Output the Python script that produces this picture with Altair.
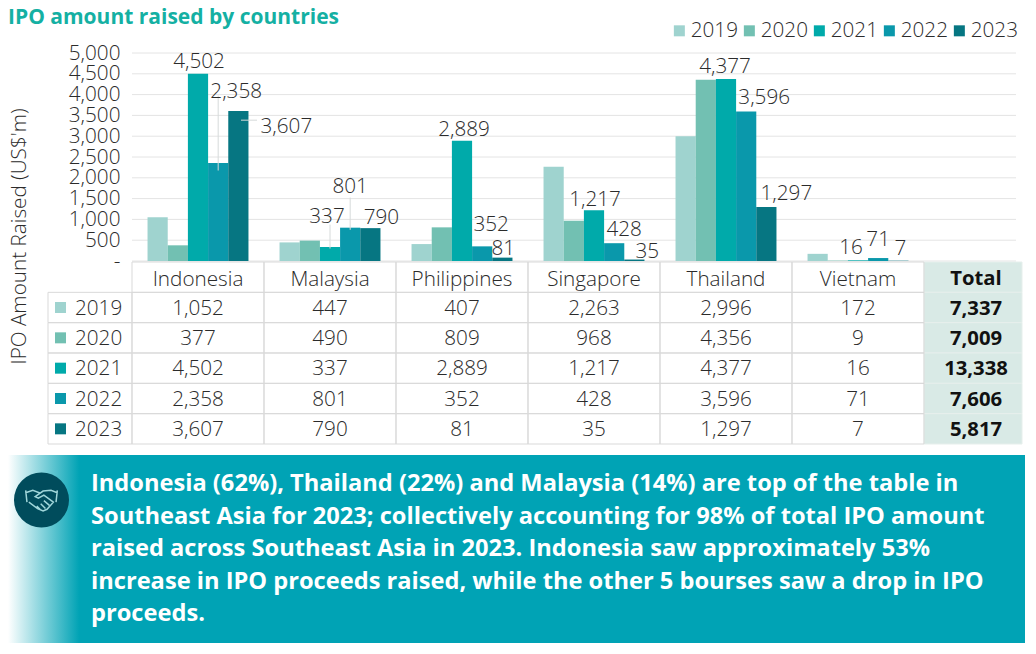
import altair as alt
import pandas as pd

countries = ["Indonesia", "Malaysia", "Philippines", "Singapore", "Thailand", "Vietnam"]
years = ["2019", "2020", "2021", "2022", "2023"]
series_2019 = [1052, 447, 407, 2263, 2996, 172]
series_2020 = [377, 490, 809, 968, 4356, 9]
series_2021 = [4502, 337, 2889, 1217, 4377, 16]
series_2022 = [2358, 801, 352, 428, 3596, 71]
series_2023 = [3607, 790, 81, 35, 1297, 7]
totals = [7337, 7009, 13338, 7606, 5817]
y_ticks = [0, 500, 1000, 1500, 2000, 2500, 3000, 3500, 4000, 4500, 5000]
colors = ["#9fd3cf", "#72c0b2", "#00aaaa", "#0a98ab", "#067682"]
banner_lines = [
    "Indonesia (62%), Thailand (22%) and Malaysia (14%) are top of the table in",
    "Southeast Asia for 2023; collectively accounting for 98% of total IPO amount",
    "raised across Southeast Asia in 2023. Indonesia saw approximately 53%",
    "increase in IPO proceeds raised, while the other 5 bourses saw a drop in IPO",
    "proceeds.",
]
# hand placement of the callouts: (country, year): (dx, dy)
label_nudges = {
    ("Indonesia", "2021"): (1, -12), ("Indonesia", "2022"): (18, -71), ("Indonesia", "2023"): (48, 16),
    ("Malaysia", "2021"): (-3, -30), ("Malaysia", "2022"): (0, -41), ("Malaysia", "2023"): (11, -10),
    ("Philippines", "2021"): (2, -11), ("Philippines", "2022"): (9, -21), ("Philippines", "2023"): (1, -9),
    ("Singapore", "2021"): (1, -10), ("Singapore", "2022"): (10, -13), ("Singapore", "2023"): (13, -8),
    ("Thailand", "2021"): (-1, -12), ("Thailand", "2022"): (18, -13), ("Thailand", "2023"): (20, -13),
    ("Vietnam", "2021"): (-7, -12), ("Vietnam", "2022"): (0, -18), ("Vietnam", "2023"): (2, -12),
}

FONT = "Open Sans"
INK = "#2b2b2b"
LINE = "#d9d9d9"
TXT = 20.7
BOLD = 20.3

series = [series_2019, series_2020, series_2021, series_2022, series_2023]
df = pd.DataFrame(
    [{"Country": c, "Year": y, "Value": s[i]} for y, s in zip(years, series) for i, c in enumerate(countries)]
)
rows = [""] + years

x_enc = alt.X("Country:N", scale=alt.Scale(domain=countries, range=[0, 792], paddingInner=0, paddingOuter=0), axis=None)
xo_enc = alt.XOffset("Year:N", scale=alt.Scale(domain=years, paddingInner=0, paddingOuter=0.77))
y_val = alt.Y("Value:Q", scale=alt.Scale(domain=[0, 5000], range=[208, 0], nice=False), axis=None)
table_y = alt.Scale(domain=rows, range=[209, 391], paddingInner=0, paddingOuter=0)
color_enc = alt.Color(
    "Year:N",
    scale=alt.Scale(domain=years, range=colors),
    legend=alt.Legend(
        orient="none", legendX=537, legendY=-33, direction="horizontal", columns=5, title=None,
        symbolType="square", symbolSize=121, symbolStrokeWidth=0, symbolOpacity=1,
        labelFont=FONT, labelFontSize=TXT, labelFontWeight=300, labelColor=INK, labelOffset=1,
        columnPadding=1, padding=0,
    ),
)

tick_df = pd.DataFrame({"Tick": y_ticks})
grid = alt.Chart(tick_df).mark_rule(color="#e4e4e4", strokeWidth=1).encode(
    x=alt.value(0), x2=alt.value(884),
    y=alt.Y(
        "Tick:Q",
        scale=alt.Scale(domain=[0, 5000], range=[208, 0], nice=False),
        axis=alt.Axis(
            values=y_ticks, domain=False, ticks=False, grid=False, labelPadding=12,
            labelFont=FONT, labelFontSize=TXT, labelFontWeight=300, labelColor=INK,
            labelOverlap=False, labelFlush=False, labelBound=False,
            labelExpr="datum.value == 0 ? '-\u00a0\u00a0\u00a0' : datum.value == 500 ? '500\u00a0' : format(datum.value, ',')",
            title="IPO Amount Raised (US$'m)", titleFont=FONT, titleFontSize=TXT, titleFontWeight=300,
            titleColor=INK, titleX=-103, titleY=183, titleAngle=270, titleAnchor="middle",
        ),
    ),
)

bars = alt.Chart(df).mark_bar(size=20.2).encode(x=x_enc, xOffset=xo_enc, y=y_val, color=color_enc)

# callout leader lines
leaders_v = pd.DataFrame({
    "Country": ["Indonesia", "Malaysia", "Malaysia"],
    "Year": ["2022", "2021", "2022"],
    "From": [3975, 875, 1525],
    "To": [2175, 300, 750],
})
leader_color = "#d6dada"
leader_rules = alt.Chart(leaders_v).mark_rule(color=leader_color, strokeWidth=1).encode(
    x=x_enc, xOffset=xo_enc,
    y=alt.Y("From:Q", scale=alt.Scale(domain=[0, 5000], range=[208, 0], nice=False), axis=None),
    y2="To:Q",
)
leader_h = alt.Chart(pd.DataFrame({"Level": [3385]})).mark_rule(color=leader_color, strokeWidth=1).encode(
    x=alt.value(109), x2=alt.value(125),
    y=alt.Y("Level:Q", scale=alt.Scale(domain=[0, 5000], range=[208, 0], nice=False), axis=None),
)

callouts = []
for (c, y), (dx, dy) in label_nudges.items():
    sub = df[(df.Country == c) & (df.Year == y)]
    callouts.append(
        alt.Chart(sub).mark_text(
            dx=dx, dy=dy, font=FONT, fontSize=TXT, fontWeight=300, color=INK, baseline="middle", align="center"
        ).encode(x=x_enc, xOffset=xo_enc, y=y_val, text=alt.Text("Value:Q", format=","))
    )

# table
def y_row(field="Row:N"):
    return alt.Y(field, scale=table_y, axis=None)

tbl = pd.DataFrame(
    [{"Country": c, "Row": y, "Value": s[i]} for y, s in zip(years, series) for i, c in enumerate(countries)]
)
total_df = pd.DataFrame({"Row": years, "Total": totals})
head_df = pd.DataFrame({"Country": countries, "Row": [""] * len(countries)})
year_df = pd.DataFrame({"Row": years, "Year": years})

total_bg = alt.Chart(pd.DataFrame({"Row": rows})).mark_rect(fill="#d9eae6", stroke="#e6efec", strokeWidth=1).encode(
    x=alt.value(792), x2=alt.value(890), y=y_row()
)
cells = alt.Chart(pd.concat([head_df, tbl[["Country", "Row"]]])).mark_rect(fill="transparent", stroke=LINE, strokeWidth=1).encode(
    x=x_enc, y=y_row()
)
year_cells = alt.Chart(year_df).mark_rect(fill="transparent", stroke=LINE, strokeWidth=1).encode(
    x=alt.value(-84), x2=alt.value(0), y=y_row()
)
swatches = alt.Chart(year_df).mark_square(size=121, opacity=1).encode(
    x=alt.value(-71.5), y=y_row(), color=alt.Color("Year:N", scale=alt.Scale(domain=years, range=colors), legend=None)
)
year_text = alt.Chart(year_df).mark_text(align="left", baseline="middle", dy=1, font=FONT, fontSize=TXT, fontWeight=300, color=INK).encode(
    x=alt.value(-57), y=y_row(), text="Year:N"
)
head_text = alt.Chart(head_df).mark_text(baseline="middle", dy=3, font=FONT, fontSize=TXT, fontWeight=300, color=INK).encode(
    x=x_enc, y=y_row(), text="Country:N"
)
val_text = alt.Chart(tbl).mark_text(baseline="middle", dy=1, font=FONT, fontSize=TXT, fontWeight=300, color=INK).encode(
    x=x_enc, y=y_row(), text=alt.Text("Value:Q", format=",")
)
total_head = alt.Chart(pd.DataFrame({"Row": [""], "Label": ["Total"]})).mark_text(
    baseline="middle", dy=2, font=FONT, fontSize=BOLD, fontWeight="bold", color="#111111"
).encode(x=alt.value(844), y=y_row(), text="Label:N")
total_text = alt.Chart(total_df).mark_text(baseline="middle", dy=1, font=FONT, fontSize=BOLD, fontWeight="bold", color="#111111").encode(
    x=alt.value(844), y=y_row(), text=alt.Text("Total:Q", format=",")
)

# banner
one = pd.DataFrame({"k": [0]})
banner = alt.Chart(one).mark_rect(
    fill=alt.LinearGradient(
        gradient="linear", x1=0, x2=1, y1=0, y2=0,
        stops=[
            alt.GradientStop(offset=0, color="#ffffff"),
            alt.GradientStop(offset=0.07, color="#00a3b5"),
            alt.GradientStop(offset=1, color="#00a3b5"),
        ],
    )
).encode(x=alt.value(-124), x2=alt.value(893), y=alt.value(402), y2=alt.value(590))
disc = alt.Chart(one).mark_point(filled=True, shape="circle", size=3025, color="#004c5c", opacity=1).encode(
    x=alt.value(-90.5), y=alt.value(447)
)
HANDS = (
    "M-1 -0.55 L-0.92 0.2 M-1 -0.4 L-0.55 -0.55 L-0.1 -0.38 M1 -0.55 L0.92 0.2 M1 -0.4 L0.6 -0.55 L0.1 -0.5 "
    "L-0.4 -0.15 L-0.2 -0.05 L0.15 -0.25 L0.75 0.2 L0.35 0.65 L0.1 0.75 L-0.25 0.6 L-0.8 0.2 "
    "M0.5 0.4 L0.15 0.1 M0.25 0.6 L-0.05 0.3 M-0.05 0.7 L-0.3 0.45"
)
hands = alt.Chart(one).mark_point(filled=False, shape=HANDS, size=1000, stroke="#9fd6da", strokeWidth=1.5, opacity=1).encode(
    x=alt.value(-90.5), y=alt.value(446)
)
banner_text = alt.Chart(one).mark_text(
    align="left", baseline="top", font=FONT, fontSize=23.65, fontWeight="bold", color="#ffffff",
    lineHeight=32.5, lineBreak="\n", text="\n".join(banner_lines),
).encode(x=alt.value(-41), y=alt.value(419))

chart = alt.layer(
    grid, bars, leader_rules, leader_h, *callouts,
    total_bg, cells, year_cells, swatches, year_text, head_text, val_text, total_head, total_text,
    banner, disc, hands, banner_text,
).resolve_scale(y="independent").properties(
    width=884, height=208,
    padding={"left": 124, "top": 45, "right": 12, "bottom": 385},
    autosize=alt.AutoSizeParams(type="none"),
    background="white",
    title=alt.TitleParams(
        "IPO amount raised by countries", anchor="start", frame="group", dx=-124, dy=12,
        font=FONT, fontSize=21, fontWeight="bold", color="#14b0a3", offset=4,
    ),
).configure_view(stroke=None)

chart.save("out.html", embed_options={"renderer": "svg", "actions": False})
